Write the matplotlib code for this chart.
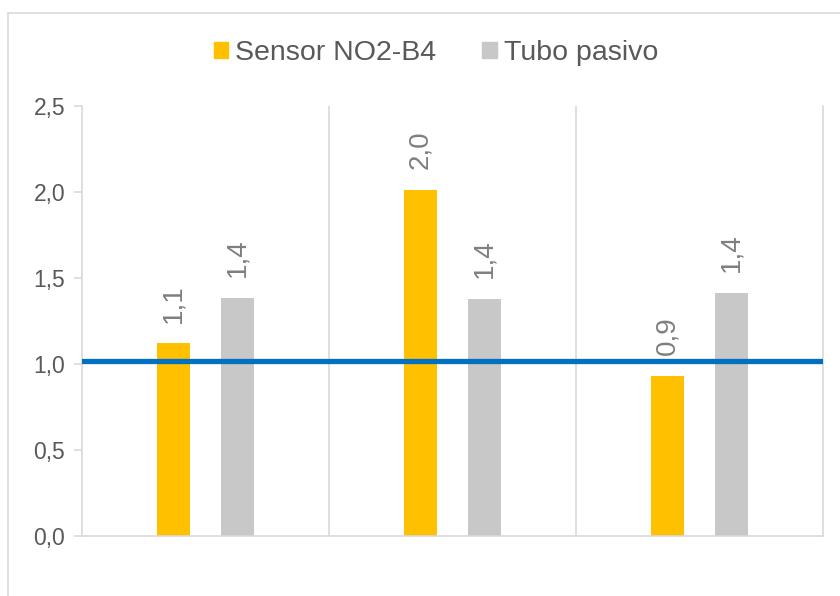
import numpy as np
import matplotlib.pyplot as plt
from matplotlib.patches import Rectangle, Patch

plt.rcParams['font.family'] = ['Liberation Sans', 'DejaVu Sans']

# Data
groups = ['1', '2', '3']
sensor = [1.12, 2.01, 0.93]
tubo = [1.384, 1.378, 1.413]
sensor_labels = ['1,1', '2,0', '0,9']
tubo_labels = ['1,4', '1,4', '1,4']
limit_value = 1.02
yticks = [0.0, 0.5, 1.0, 1.5, 2.0, 2.5]
ytick_labels = ['0,0', '0,5', '1,0', '1,5', '2,0', '2,5']

c_sensor = '#FFC000'
c_tubo = '#C8C8C8'
c_line = '#0070C0'
c_grid = '#D9D9D9'
c_text = '#595959'
c_label = '#7F7F7F'

fig = plt.figure(figsize=(8.4, 5.96), dpi=100)
# outer chart frame
fig.patches.append(Rectangle((8 / 840, -0.1), 1.2, (596 - 13) / 596 + 0.1,
                             transform=fig.transFigure, fill=False,
                             edgecolor=c_grid, linewidth=1.2))

ax = fig.add_axes([82 / 840, 60 / 596, (823 - 82) / 840, (536 - 106) / 596])

x = np.arange(len(groups))
off = 0.13
w = 0.134
b1 = ax.bar(x - off, sensor, w, color=c_sensor, zorder=2)
b2 = ax.bar(x + off, tubo, w, color=c_tubo, zorder=2)

for rect, lab in zip(b1, sensor_labels):
    ax.annotate(lab, (rect.get_x() + rect.get_width() / 2, rect.get_height()),
                xytext=(0, 15), textcoords='offset points', rotation=90,
                ha='center', va='bottom', fontsize=20, color=c_label)
for rect, lab in zip(b2, tubo_labels):
    ax.annotate(lab, (rect.get_x() + rect.get_width() / 2, rect.get_height()),
                xytext=(0, 15), textcoords='offset points', rotation=90,
                ha='center', va='bottom', fontsize=20, color=c_label)

ax.axhline(limit_value, xmin=0, xmax=0.997, color=c_line, linewidth=3.8, zorder=3)

ax.set_xlim(-0.5, 2.5)
ax.set_ylim(0, 2.5)
ax.set_yticks(yticks)
ax.set_yticklabels(ytick_labels, fontsize=16.5, color=c_text)
ax.tick_params(axis='y', length=6, color=c_grid, width=1.2, pad=6)
ax.set_xticks([0.5, 1.5])
ax.set_xticklabels([])
ax.tick_params(axis='x', length=0)
ax.grid(axis='x', color=c_grid, linewidth=1.2, zorder=0)

ax.spines['top'].set_visible(False)
for s in ['left', 'right', 'bottom']:
    ax.spines[s].set_color(c_grid)
    ax.spines[s].set_linewidth(1.2)

handles = [Patch(color=c_sensor, label='Sensor NO2-B4'),
           Patch(color=c_tubo, label='Tubo pasivo')]
fig.legend(handles=handles, loc='center', bbox_to_anchor=(436 / 840, 1 - 53 / 596),
           ncol=2, frameon=False, fontsize=20.5, labelcolor=c_text,
           handlelength=0.52, handleheight=0.52, handletextpad=0.25,
           columnspacing=1.6)

fig.savefig('out.png', dpi=100)
